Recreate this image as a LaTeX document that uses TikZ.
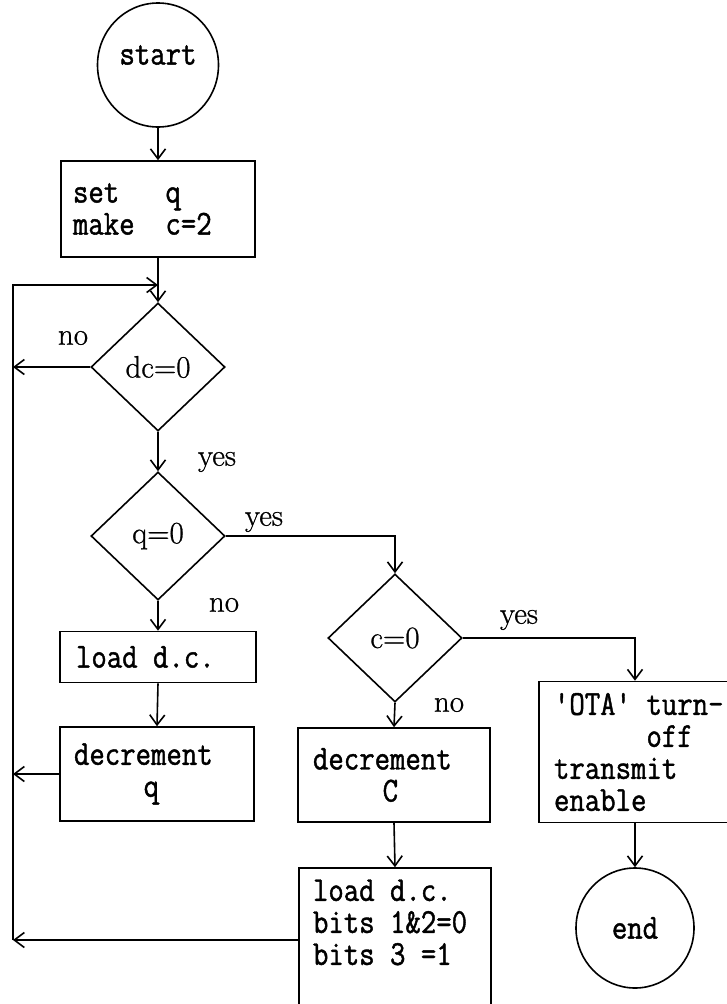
\documentclass[tikz,border=0pt]{standalone}
\usepackage{fontspec}
\setmonofont[FakeStretch=0.855,FakeBold=1.2]{Latin Modern Mono}
\newfontfamily\lblfam[FakeBold=0.8]{Latin Modern Roman}
\usetikzlibrary{shapes.geometric,arrows.meta}
\newcommand{\boxfont}{\ttfamily\fontsize{35pt}{32pt}\selectfont}
\newcommand{\lblfont}{\lblfam\fontsize{31pt}{34pt}\selectfont}
\newcommand{\tsp}{\hphantom{x}}
\tikzset{
  ln/.style={line width=1.6pt},
  arr/.style={ln, -{Straight Barb[length=10pt,width=15pt,line width=1.6pt]}},
  stepbox/.style={draw, ln, rectangle, inner ysep=0pt, font=\boxfont, align=left},
  decision/.style={draw, ln, diamond, minimum width=134pt, minimum height=128pt, inner sep=0pt, font=\lblfont},
  terminal/.style={draw, ln, ellipse, inner sep=0pt, font=\boxfont},
  lbl/.style={font=\lblfont, inner sep=0pt},
}
\begin{document}
\begin{tikzpicture}[x=1pt,y=-1pt]
\useasboundingbox (0,0) rectangle (727,1004);
\clip (0,0) rectangle (727,1004);
\fill[white] (0,0) rectangle (727,1004);

% nodes
\node[terminal, minimum width=121pt, minimum height=124pt,
      label={[font=\boxfont, yshift=10pt]center:start}] (start) at (158,65) {};
\node[stepbox, text width=170pt, inner xsep=12pt, minimum height=96pt] (setq) at (158,209)
  {set\tsp\tsp\tsp q\\make\tsp\tsp c=2};
\node[decision] (dc) at (158,367) {dc=0};
\node[decision] (q0) at (158,536) {q=0};
\node[stepbox, text width=164pt, inner xsep=16pt, minimum height=51pt] (loadq) at (158,657) {load\tsp d.c.};
\node[stepbox, text width=166pt, inner xsep=14pt, minimum height=94pt] (decq) at (157,774)
  {decrement\\\hphantom{xxxx}\hspace*{8pt}q};
\node[decision] (c0) at (395,638) {c=0};
\node[stepbox, text width=162pt, inner xsep=15pt, minimum height=94pt] (decC) at (394,775)
  {decrement\\\hphantom{xxxx}\hspace*{8pt}C};
\node[stepbox, text width=164pt, inner xsep=14pt, minimum height=182pt] (bits) at (395,959)
  {load\tsp d.c.\\bits\tsp 1\&2=0\\bits\tsp 3\tsp =1\\\strut\\\strut};
\node[stepbox, text width=180pt, inner xsep=15pt, minimum height=141pt] (ota) at (644,752)
  {'OTA'\tsp turn-\\\hphantom{xxxxxx}off\\transmit\\enable};
\node[terminal, minimum width=118pt, minimum height=120pt] (endc) at (635,928) {end};

% labels
\node[lbl] (lno1) at (73,338) {no};
\node[lbl] (lyes1) at (217,462) {yes};
\node[lbl] (lyes2) at (264,522) {yes};
\node[lbl] (lno2) at (224,605) {no};
\node[lbl] (lyes3) at (519,620) {yes};
\node[lbl] (lno3) at (449,705) {no};

% loop coordinates
\coordinate (j1) at (158,285);
\coordinate (tl) at (13,285);
\coordinate (bl) at (13,940);

% connectors
\draw[arr] (start.south) -- (setq.north);
\draw[arr] (setq.south) -- (dc.north);
\draw[arr] (bl) -- (tl) -- (j1);
\draw[arr] (dc.west) -- (dc.west -| tl);
\draw[arr] (dc.south) -- (q0.north);
\draw[arr] (q0.east) -| (c0.north);
\draw[arr] (q0.south) -- (loadq.north);
\draw[arr] (loadq.south) -- (decq.north);
\draw[arr] (decq.west) -- (decq.west -| tl);
\draw[arr] (c0.east) -| (endc.north |- ota.north);
\draw[arr] (c0.south) -- (decC.north);
\draw[arr] (decC.south) -- (bits.north);
\draw[arr] (bits.west |- bl) -- (bl);
\draw[arr] (endc.north |- ota.south) -- (endc.north);
\end{tikzpicture}
\end{document}
